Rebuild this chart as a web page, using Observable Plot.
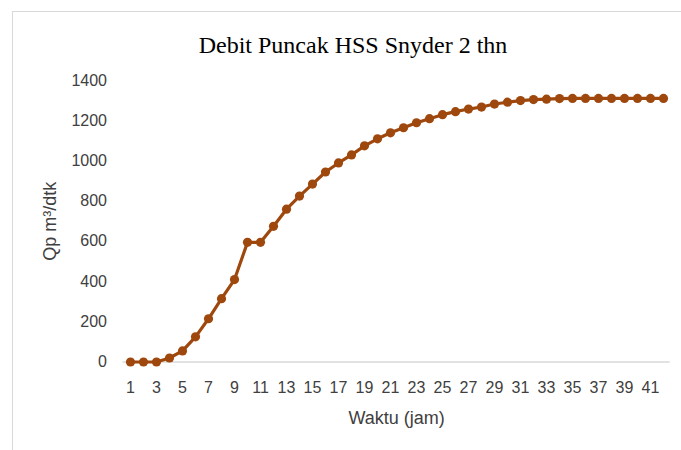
<!DOCTYPE html>
<html>
<head>
<meta charset="utf-8">
<script src="https://cdn.jsdelivr.net/npm/d3@7"></script>
<script src="https://cdn.jsdelivr.net/npm/@observablehq/plot@0.6"></script>
<style>
  html, body { margin: 0; padding: 0; background: #fff; }
  #wrap { position: relative; width: 681px; height: 450px; overflow: hidden; background: #fff; }
  #frame { position: absolute; left: 12px; top: 11px; width: 700px; height: 460px;
           border-left: 1px solid #d9d9d9; border-top: 1px solid #d9d9d9; box-sizing: border-box; }
  #title { position: absolute; left: 0; top: 0; width: 706px; height: 62px; text-align: center;
           font-family: "Liberation Serif", "Times New Roman", serif; font-size: 24px; color: #000;
           line-height: 24px; padding-top: 33px; box-sizing: border-box; }
  #chart { position: absolute; left: 0; top: 62px; }
  #chart g[aria-label="x-axis label"] text,
  #chart g[aria-label="y-axis label"] text { font-size: 18px; }
</style>
</head>
<body>
<div id="wrap">
  <div id="frame"></div>
  <div id="title">Debit Puncak HSS Snyder 2 thn</div>
  <div id="chart"></div>
</div>
<script>
const chartTitle = "Debit Puncak HSS Snyder 2 thn";
const xLabel = "Waktu (jam)";
const yLabel = "Qp m³/dtk";
const hours = d3.range(1, 43);
const discharge = [
  0, 0, 0, 20, 55, 125, 215, 315, 410, 595,
  595, 675, 760, 825, 885, 945, 990, 1030, 1075, 1110,
  1140, 1165, 1190, 1210, 1230, 1245, 1258, 1268, 1283, 1292,
  1300, 1305, 1307, 1310, 1311, 1311, 1311, 1311, 1311, 1311,
  1311, 1311
];
const yTicks = [0, 200, 400, 600, 800, 1000, 1200, 1400];
const xTickLabels = hours.filter(h => h % 2 === 1);

const data = hours.map((h, i) => ({hour: h, q: discharge[i]}));
const color = "#9e480e";

const chart = Plot.plot({
  width: 681,
  height: 388,
  marginLeft: 122.5,
  marginRight: 11.3,
  marginTop: 18,
  marginBottom: 88.5,
  style: {fontFamily: "'Liberation Sans', Arial, sans-serif", fontSize: "16px", color: "#404040", background: "transparent"},
  x: {type: "point", domain: hours, padding: 0.5},
  y: {domain: [0, 1400]},
  marks: [
    Plot.ruleY([0], {stroke: "#d9d9d9", strokeWidth: 1.3}),
    Plot.axisX({ticks: xTickLabels, tickSize: 0, tickPadding: 20, fontSize: 16,
                label: xLabel, labelAnchor: "center", labelArrow: "none", labelOffset: 62, fill: "#404040"}),
    Plot.axisY({ticks: yTicks, tickSize: 0, tickPadding: 16, fontSize: 16, tickFormat: d3.format("d"),
                label: yLabel, labelAnchor: "center", labelArrow: "none", labelOffset: 80, fill: "#404040"}),
    Plot.line(data, {x: "hour", y: "q", stroke: color, strokeWidth: 3.2, curve: "linear"}),
    Plot.dot(data, {x: "hour", y: "q", fill: color, r: 4.6, stroke: "none"})
  ]
});
document.getElementById("chart").appendChild(chart);
</script>
</body>
</html>
